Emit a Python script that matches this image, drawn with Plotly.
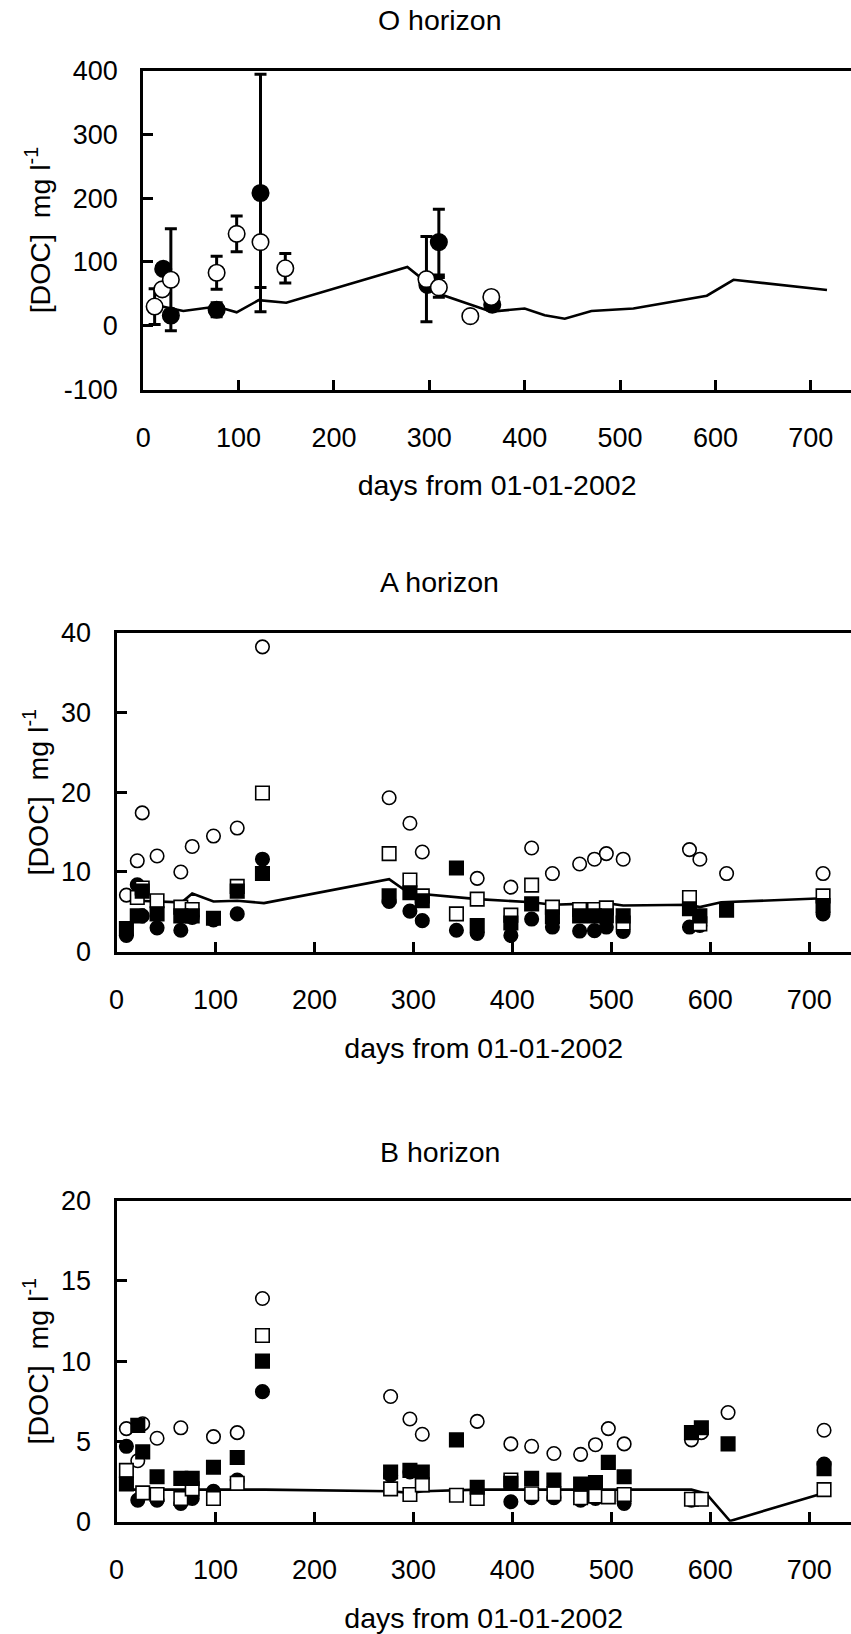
import plotly.graph_objects as go

W, H = 851, 1634

# ---------------- O horizon ----------------
O_open_days = [12, 20, 29, 77, 98, 123, 149, 297, 310, 343, 365]
O_open_vals = [30, 57, 72, 83, 144, 131, 90, 73, 60, 15, 45]
O_open_err = [28, 0, 80, 26, 28, 71, 23, 67, 15.5, 0, 0]

O_fill_days = [21, 29, 77, 123, 298, 310, 366]
O_fill_vals = [89, 16, 25, 208, 64, 131, 33]
O_fill_err = [0, 0, 11, 186, 0, 51.5, 8]

O_line_days = [20, 42, 77, 98, 121, 150, 277, 297, 310, 365, 400, 421, 442, 470, 514, 591, 619, 717]
O_line_vals = [30, 23, 30, 21, 40, 36, 92, 68, 50, 22, 27, 16.5, 11, 23, 27, 47, 72, 56]

# ---------------- A horizon ----------------
A_ocirc_days = [10, 21, 26, 41, 65, 76.5, 98, 122, 147.5, 275.5, 296.5, 309, 364.5, 398.5,
                419.5, 440.5, 468, 483, 495, 512, 579, 589.5, 616.5, 714]
A_ocirc_vals = [7.1, 11.4, 17.4, 12.0, 10.0, 13.2, 14.5, 15.5, 38.2, 19.3, 16.1, 12.5, 9.2, 8.1,
                13.0, 9.8, 11.0, 11.6, 12.3, 11.6, 12.8, 11.6, 9.8, 9.8]

A_osq_days = [21, 26, 41, 65, 76.5, 122, 147.5, 275.5, 296.5, 309, 343.5, 364.5, 398.5,
              419.5, 440.5, 468, 483, 495, 512, 579, 589.5, 714]
A_osq_vals = [6.8, 8.0, 6.4, 5.6, 5.3, 8.2, 19.9, 12.3, 9.0, 7.0, 4.75, 6.6, 4.6,
              8.35, 5.6, 5.3, 5.3, 5.5, 3.6, 6.8, 3.5, 7.0]

A_fsq_days = [10, 21, 26, 41, 65, 76.5, 98, 122, 147.5, 275.5, 296.5, 309, 343.5, 364.5, 398.5,
              419.5, 440.5, 468, 483, 495, 512, 579, 589.5, 616.5, 714]
A_fsq_vals = [2.9, 4.5, 7.6, 4.75, 4.5, 4.5, 4.2, 7.6, 9.8, 7.0, 7.4, 6.4, 10.5, 3.3, 3.6,
              6.0, 4.4, 4.5, 4.5, 4.5, 4.5, 5.4, 4.5, 5.2, 5.8]

A_fcirc_days = [10, 21, 26, 41, 65, 76.5, 98, 122, 147.5, 275.5, 296.5, 309, 343.5, 364.5, 398.5,
                419.5, 440.5, 468, 483, 495, 512, 579, 589.5, 714]
A_fcirc_vals = [2.05, 8.4, 4.5, 3.0, 2.7, 4.3, 4.0, 4.75, 11.6, 6.3, 5.1, 3.9, 2.7, 2.3, 2.05,
                4.1, 3.1, 2.6, 2.65, 3.1, 2.55, 3.1, 3.3, 4.75]

A_line_days = [12, 21, 66, 76.5, 98, 122, 149, 275.5, 295, 365, 419.5, 440.5, 468, 495, 512,
               579, 589.5, 611, 714]
A_line_vals = [6.5, 6.4, 6.2, 7.3, 6.3, 6.4, 6.1, 9.1, 7.4, 6.6, 6.2, 5.9, 6.0, 6.1, 5.8,
               5.9, 5.6, 6.2, 6.7]

# ---------------- B horizon ----------------
B_ocirc_days = [10, 21.5, 26.5, 41, 65, 98, 122, 147.5, 277, 296.5, 309, 364.5, 398.5, 419.5,
                442, 469, 484, 497, 513, 581, 591, 618, 715]
B_ocirc_vals = [5.8, 3.8, 6.1, 5.2, 5.85, 5.3, 5.55, 13.9, 7.8, 6.4, 5.45, 6.25, 4.85, 4.7,
                4.25, 4.2, 4.8, 5.8, 4.85, 5.1, 5.55, 6.8, 5.7]

B_fcirc_days = [10, 21.5, 41, 65, 76.5, 98, 122, 147.5, 277, 296.5, 398.5, 419.5, 442, 469,
                484, 513, 581, 715]
B_fcirc_vals = [4.7, 1.35, 1.35, 1.15, 1.45, 1.9, 2.6, 8.1, 2.9, 3.1, 1.25, 1.5, 1.5, 1.35,
                1.45, 1.15, 1.35, 3.6]

B_osq_days = [10, 26.5, 41, 65, 76.5, 98, 122, 147.5, 277, 296.5, 309, 343.5, 364.5, 398.5,
              419.5, 442, 469, 484, 497, 513, 581, 591, 715]
B_osq_vals = [3.2, 1.8, 1.7, 1.45, 2.05, 1.45, 2.4, 11.6, 2.05, 1.7, 2.3, 1.65, 1.45, 2.6,
              1.75, 1.75, 1.5, 1.6, 1.55, 1.7, 1.4, 1.4, 2.0]

B_fsq_days = [10, 21.5, 26.5, 41, 65, 76.5, 98, 122, 147.5, 277, 296.5, 309, 343.5, 364.5,
              398.5, 419.5, 442, 469, 484, 497, 513, 581, 591, 618, 715]
B_fsq_vals = [2.35, 6.0, 4.35, 2.8, 2.7, 2.7, 3.4, 4.0, 10.0, 3.1, 3.2, 3.1, 5.1, 2.15,
              2.4, 2.7, 2.6, 2.35, 2.45, 3.7, 2.8, 5.55, 5.85, 4.85, 3.3]

B_line_days = [10, 150, 277, 297, 310, 365, 581, 596, 620, 707, 715]
B_line_vals = [2.0, 2.0, 1.9, 1.8, 1.9, 2.0, 2.0, 1.75, 0.05, 1.65, 1.8]

X_TICKS = [0, 100, 200, 300, 400, 500, 600, 700]
O_YTICKS = [-100, 0, 100, 200, 300, 400]
A_YTICKS = [0, 10, 20, 30, 40]
B_YTICKS = [0, 5, 10, 15, 20]

PANEL_TITLES = ["O horizon", "A horizon", "B horizon"]
X_TITLE = "days from 01-01-2002"
Y_TITLE = "[DOC]  mg l<sup>-1</sup>"

FONT = "Arial, 'Liberation Sans', sans-serif"
FS_TICK = 27
FS_TITLE = 28.5
LW = 3

fig = go.Figure()


def line_trace(x, y, ax):
    return go.Scatter(x=x, y=y, mode="lines", line=dict(color="black", width=2.6),
                      xaxis=ax[0], yaxis=ax[1], hoverinfo="skip")


def mk(x, y, ax, symbol, filled, size, err=None):
    kw = {}
    if err is not None:
        kw["error_y"] = dict(type="data", array=err, visible=True, color="black",
                             thickness=3, width=6)
    return go.Scatter(x=x, y=y, mode="markers", xaxis=ax[0], yaxis=ax[1],
                      marker=dict(symbol=symbol, size=size,
                                  color="black" if filled else "white",
                                  line=dict(color="black", width=1.6)), **kw)


# O panel
axO = ("x", "y")
fig.add_trace(line_trace(O_line_days, O_line_vals, axO))
fig.add_trace(mk(O_fill_days, O_fill_vals, axO, "circle", True, 16.5, O_fill_err))
fig.add_trace(mk(O_open_days, O_open_vals, axO, "circle", False, 16.5, O_open_err))

# A panel
axA = ("x2", "y2")
fig.add_trace(line_trace(A_line_days, A_line_vals, axA))
fig.add_trace(mk(A_fcirc_days, A_fcirc_vals, axA, "circle", True, 13.5))
fig.add_trace(mk(A_ocirc_days, A_ocirc_vals, axA, "circle", False, 13.5))
fig.add_trace(mk(A_osq_days, A_osq_vals, axA, "square", False, 13.5))
fig.add_trace(mk(A_fsq_days, A_fsq_vals, axA, "square", True, 13.5))

# B panel
axB = ("x3", "y3")
fig.add_trace(line_trace(B_line_days, B_line_vals, axB))
fig.add_trace(mk(B_fcirc_days, B_fcirc_vals, axB, "circle", True, 13.5))
fig.add_trace(mk(B_ocirc_days, B_ocirc_vals, axB, "circle", False, 13.5))
fig.add_trace(mk(B_osq_days, B_osq_vals, axB, "square", False, 13.5))
fig.add_trace(mk(B_fsq_days, B_fsq_vals, axB, "square", True, 13.5))


def xdom(px_left):
    return [(px_left + LW / 2) / W, 1.0]


def ydom(px_top, px_bottom):
    return [1 - (px_bottom - LW / 2) / H, 1 - (px_top + LW / 2) / H]


def xaxis_cfg(left_px, px_per_day, anchor):
    return dict(domain=xdom(left_px), range=[0, (W - left_px - LW / 2) / px_per_day],
                anchor=anchor, tickvals=X_TICKS, ticktext=[str(v) for v in X_TICKS],
                ticks="inside", ticklen=10, tickwidth=2.5, tickcolor="black",
                showline=True, linecolor="black", linewidth=LW, mirror=True,
                showgrid=False, zeroline=False, ticklabelstandoff=22, automargin=False,
                tickfont=dict(family=FONT, size=FS_TICK, color="black"),
                title=dict(text=X_TITLE, font=dict(family=FONT, size=FS_TITLE, color="black"),
                           standoff=24))


def yaxis_cfg(top_px, bot_px, rng, ticks, anchor):
    return dict(domain=ydom(top_px, bot_px), range=rng, anchor=anchor,
                tickvals=ticks, ticktext=[str(v) for v in ticks],
                ticks="inside", ticklen=10, tickwidth=2.5, tickcolor="black",
                showline=True, linecolor="black", linewidth=LW, mirror=False,
                showgrid=False, zeroline=False, ticklabelstandoff=17, automargin=False,
                tickfont=dict(family=FONT, size=FS_TICK, color="black"),
                title=dict(text=Y_TITLE, font=dict(family=FONT, size=FS_TITLE, color="black"),
                           standoff=5))


fig.update_layout(
    width=W, height=H, margin=dict(l=0, r=0, t=0, b=0, autoexpand=False),
    paper_bgcolor="white", plot_bgcolor="white", showlegend=False,
    font=dict(family=FONT, size=FS_TICK, color="black"),
    xaxis=xaxis_cfg(141.7, 0.9537, "y"),
    yaxis=yaxis_cfg(69, 391, [-100, 400], O_YTICKS, "x"),
    xaxis2=xaxis_cfg(115, 0.9896, "y2"),
    yaxis2=yaxis_cfg(631, 953.3, [0, 40], A_YTICKS, "x2"),
    xaxis3=xaxis_cfg(115, 0.9896, "y3"),
    yaxis3=yaxis_cfg(1199, 1523.3, [0, 20], B_YTICKS, "x3"),
)

for title, yc in zip(PANEL_TITLES, [20, 581.7, 1151.7]):
    fig.add_annotation(text=title, x=440 / W, y=1 - yc / H, xref="paper", yref="paper",
                       xanchor="center", yanchor="middle", showarrow=False,
                       font=dict(family=FONT, size=FS_TITLE, color="black"))

fig.write_html("out.html")
